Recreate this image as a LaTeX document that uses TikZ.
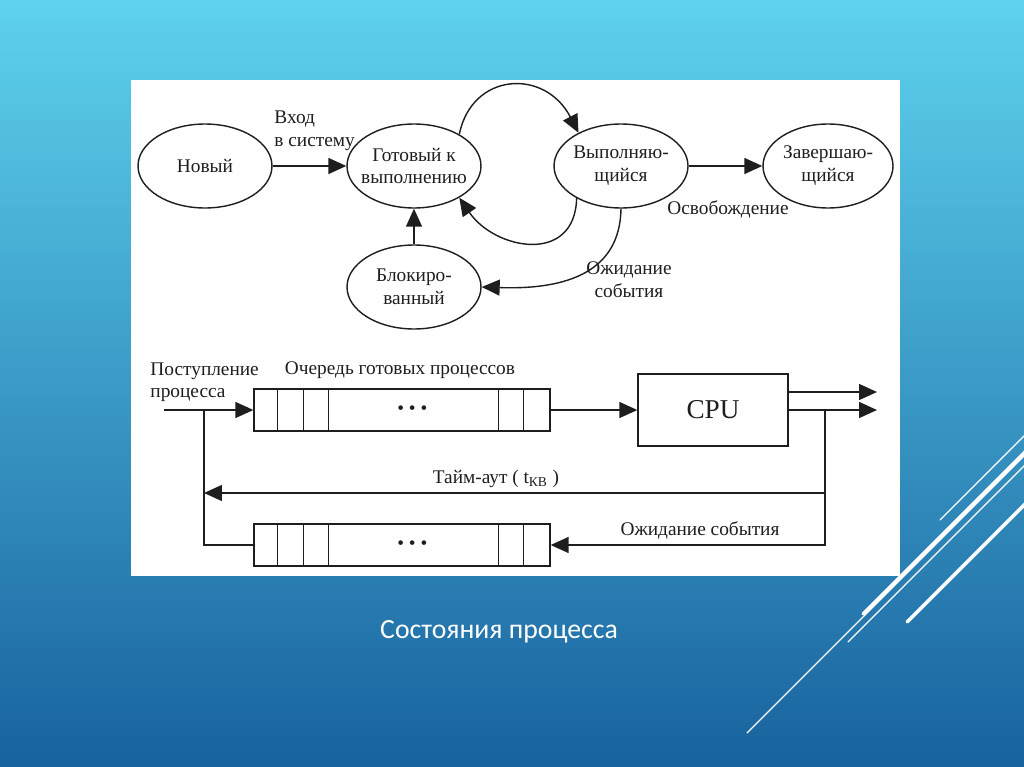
\documentclass[tikz,border=0pt]{standalone}
\usepackage{fontspec}
\setmainfont{Liberation Serif}
\newfontfamily\slidefont{Carlito}
\usetikzlibrary{arrows.meta,calc,positioning,shapes.geometric}
\definecolor{slidetop}{RGB}{94,210,238}
\definecolor{slidemid}{RGB}{52,152,200}
\definecolor{slidebot}{RGB}{24,98,158}
\definecolor{ink}{RGB}{30,30,30}
\tikzset{arr/.style={-{Triangle[length=0.36cm, width=0.32cm]}},
  state/.style={draw, ellipse, minimum width=2.68cm, minimum height=1.68cm, inner sep=0pt},
  txt/.style={align=center, font=\fontsize{11}{13}\selectfont, text=ink, inner sep=1pt},
  queue/.style={draw, minimum width=5.92cm, minimum height=0.84cm, inner sep=0pt},
  cpu/.style={draw, minimum width=3cm, minimum height=1.44cm, font=\fontsize{15.5}{18}\selectfont},
  deco/.style={draw=white, line cap=round}}

\begin{document}
\begin{tikzpicture}[x=0.02cm, y=-0.02cm, line width=0.8pt, color=ink]
  \useasboundingbox (0,0) rectangle (1024,767);
  % slide background
  \shade[top color=slidetop, middle color=slidemid, bottom color=slidebot] (0,0) rectangle (1024,767);
  \fill[white] (131,80) rectangle (900,576);
  \foreach \a/\b/\w in {747/733/0.7pt, 940/520/0.7pt, 863/614/2pt, 848/642/0.7pt, 907/622/2pt}{
    \draw[deco, line width=\w] (\a,\b) -- ++(300,-300);}

  % process states
  \node[state] (new) at (205,166) {};
  \node[txt] (newt) at (new) {Новый};
  \node[state] (ready) at (414,166) {};
  \node[txt] (readyt) at (ready) {Готовый к\\выполнению};
  \node[state] (blocked) at (414,287) {};
  \node[txt] (blockedt) at (blocked) {Блокиро-\\ванный};
  \node[state] (run) at (621,166) {};
  \node[txt] (runt) at (run) {Выполняю-\\щийся};
  \node[state, minimum width=2.6cm] (done) at (828,166) {};
  \node[txt] (donet) at (done) {Завершаю-\\щийся};

  \draw[arr] (new) -- (ready);
  \node[txt, align=left, anchor=south west] (entryt) at (272,153) {Вход\\в систему};
  \draw[arr] (blocked) -- (ready);
  \draw[arr] (ready.35) .. controls (472,72) and (545,68) .. (run.142);
  \draw[arr] (run.216) .. controls (575,265) and (495,250) .. (ready.-35);
  \draw[arr] (run.south) .. controls (620,270) and (570,290) .. (blocked.east);
  \node[txt] (waitt) at (629,280) {Ожидание\\события};
  \draw[arr] (run) -- (done);
  \node[txt] (freet) at (728,209) {Освобождение};

  % queues and CPU
  \node[queue] (qtop) at (402,410) {};
  \node[queue] (qbot) at (402,545) {};
  \foreach \q in {qtop,qbot}{
    \foreach \dx in {24,50,75,245,270}
      \draw ($(\q.north west)+(\dx,0)$) -- ($(\q.south west)+(\dx,0)$);
    \node[txt] (\q dots) at ($(\q.west)+(159,0)$) {• • •};}
  \coordinate (arrin) at (164,410);
  \coordinate (join) at (204,410);
  \draw[arr] (arrin) -- (qtop.west);
  \node[txt, align=left, anchor=north west] (arrt) at (148,360) {Поступление\\процесса};
  \node[txt] (qtopt) at (400,370) {Очередь готовых процессов};
  \node[cpu] (cpu) at (713,410) {CPU};
  \draw[arr] (qtop) -- (cpu);
  \coordinate (out1) at (877,392);
  \coordinate (out2) at (877,410);
  \draw[arr] (cpu.east |- out1) -- (out1);
  \draw[arr] (cpu.east) -- (out2);
  \coordinate (tap) at (825,410);
  \coordinate (tapmid) at (825,493);
  \draw (tap) -- (tapmid);
  \draw[arr] (tapmid) |- (qbot.east);
  \draw[arr] (tapmid) -- (join |- tapmid);
  \draw (qbot.west) -| (join);
  \node[txt] (timeoutt) at (496,479) {Тайм-аут ( t\textsubscript{КВ} )};
  \node[txt] (waitqt) at (700,530) {Ожидание события};

  \node[font=\slidefont\fontsize{15.8}{18}\selectfont, text=white] (title) at (499,632) {Состояния процесса};
\end{tikzpicture}
\end{document}
